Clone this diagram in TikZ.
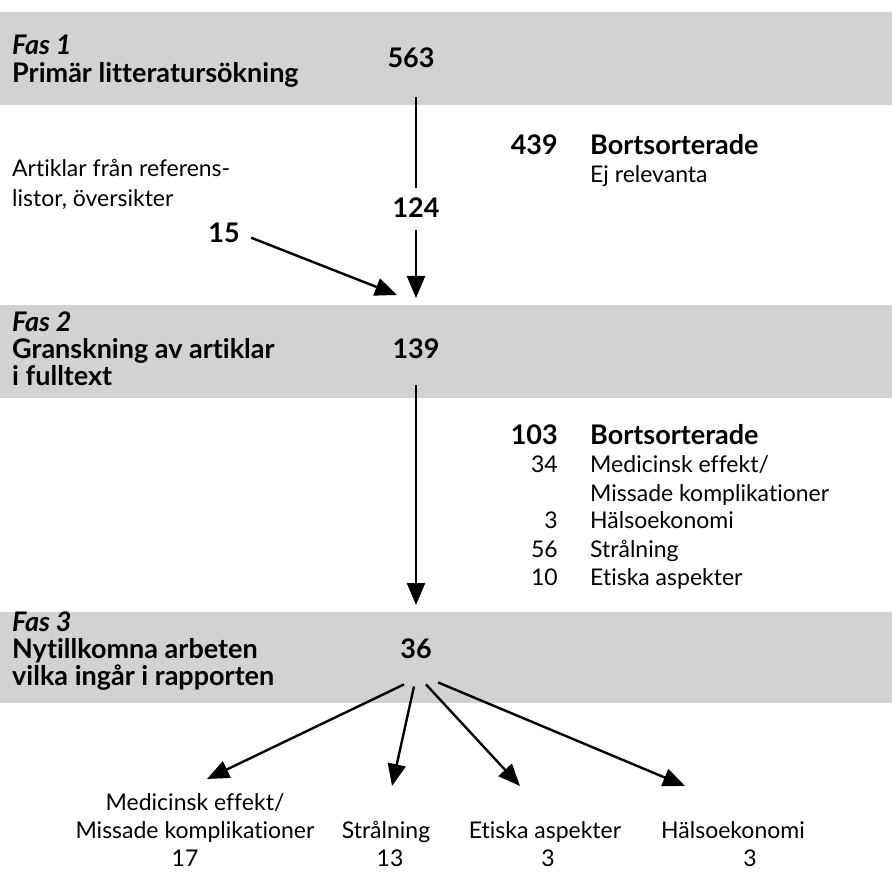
\documentclass[tikz,border=0pt]{standalone}
\usepackage{fontspec}
\setmainfont{Lato}[Ligatures=NoCommon]
\usetikzlibrary{arrows.meta,positioning,calc}
\definecolor{bandgray}{RGB}{209,210,212}

\tikzset{
  txt/.style={inner sep=0pt, font=\fontsize{23}{28}\selectfont},
  lbl/.style={txt, anchor=base west},
  head/.style={lbl, font=\fontsize{27}{28}\selectfont\bfseries},
  fas/.style={lbl, font=\fontsize{27}{28}\selectfont\bfseries\itshape},
  num/.style={txt, anchor=base, font=\fontsize{27}{28}\selectfont\bfseries},
  cnt/.style={txt, anchor=base east},
  ctr/.style={txt, anchor=base},
  plain/.style={line width=2.4pt},
  flow/.style={plain, -{Triangle[length=22pt,width=18pt]}},
}

\begin{document}
\begin{tikzpicture}[x=1pt,y=-1pt]
    \useasboundingbox (0,0) rectangle (892,874);
    % grey bands
    \fill[bandgray] (0,12) rectangle (892,105);
    \fill[bandgray] (0,305) rectangle (892,398);
    \fill[bandgray] (0,612) rectangle (892,703);

    % Fas 1
    \node[fas] (fas1) at (12,55) {Fas 1};
    \node[head] (prim) at (12,83) {Primär litteratursökning};
    \node[num] (n563) at (411,68) {563};
    \node[num] (n124) at (416,218) {124};
    \node[num, anchor=base east] (n439) at (558,155) {439};
    \node[head] (bort1) at (590,155) {Bortsorterade};
    \node[lbl] (ejrel) at (590,183) {Ej relevanta};
    \node[lbl] (art1) at (12,177) {Artiklar från referens-};
    \node[lbl] (art2) at (12,207) {listor, översikter};
    \node[num, anchor=base east] (n15) at (240,243) {15};
    \coordinate (in2) at (416,298);
    \coordinate (side2) at (397,295);

    \draw[plain, shorten <=29pt, shorten >=10pt] (n563.south -| n124) -- (n124.north);
    \draw[flow, shorten <=12pt] (n124.south) -- (in2);
    \draw[flow, shorten <=12pt] (n15.east) -- (side2);

    % Fas 2
    \node[fas] (fas2) at (12,332) {Fas 2};
    \node[head] (gran1) at (12,359) {Granskning av artiklar};
    \node[head] (gran2) at (12,386) {i fulltext};
    \node[num] (n139) at (416,359) {139};
    \coordinate (in3) at (416,605);
    \draw[flow, shorten <=26pt] (n139.south) -- (in3);

    \node[num, anchor=base east] (n103) at (558,445) {103};
    \node[head] (bort2) at (590,445) {Bortsorterade};
    \node[cnt] (c34) at (558,473) {34};
    \node[lbl] (med) at (590,473) {Medicinsk effekt/};
    \node[lbl] (miss) at (590,501) {Missade komplikationer};
    \node[cnt] (c3) at (558,529) {3};
    \node[lbl] (hals) at (590,529) {Hälsoekonomi};
    \node[cnt] (c56) at (558,557) {56};
    \node[lbl] (stral) at (590,557) {Strålning};
    \node[cnt] (c10) at (558,585) {10};
    \node[lbl] (etik) at (590,585) {Etiska aspekter};

    % Fas 3
    \node[fas] (fas3) at (12,631) {Fas 3};
    \node[head] (nyt1) at (12,658) {Nytillkomna arbeten};
    \node[head] (nyt2) at (12,685) {vilka ingår i rapporten};
    \node[num] (n36) at (416,658) {36};

    % outcome
    \node[ctr] (o1a) at (195,810) {Medicinsk effekt/};
    \node[ctr] (o1b) at (195,838) {Missade komplikationer};
    \node[ctr] (o1n) at (185,866) {17};
    \node[ctr] (o2) at (386,838) {Strålning};
    \node[ctr] (o2n) at (390,866) {13};
    \node[ctr] (o3) at (545,838) {Etiska aspekter};
    \node[ctr] (o3n) at (548,866) {3};
    \node[ctr] (o4) at (733,838) {Hälsoekonomi};
    \node[ctr] (o4n) at (750,866) {3};

    \coordinate (t1) at (207,779);
    \coordinate (t2) at (392,786);
    \coordinate (t3) at (520,786);
    \coordinate (t4) at (685,786);
    \draw[flow] ([xshift=-12pt,yshift=-26pt]n36.south) -- (t1);
    \draw[flow] ([xshift=-2pt,yshift=-28pt]n36.south) -- (t2);
    \draw[flow] ([xshift=10pt,yshift=-26pt]n36.south) -- (t3);
    \draw[flow] ([xshift=22pt,yshift=-24pt]n36.south) -- (t4);
\end{tikzpicture}
\end{document}
